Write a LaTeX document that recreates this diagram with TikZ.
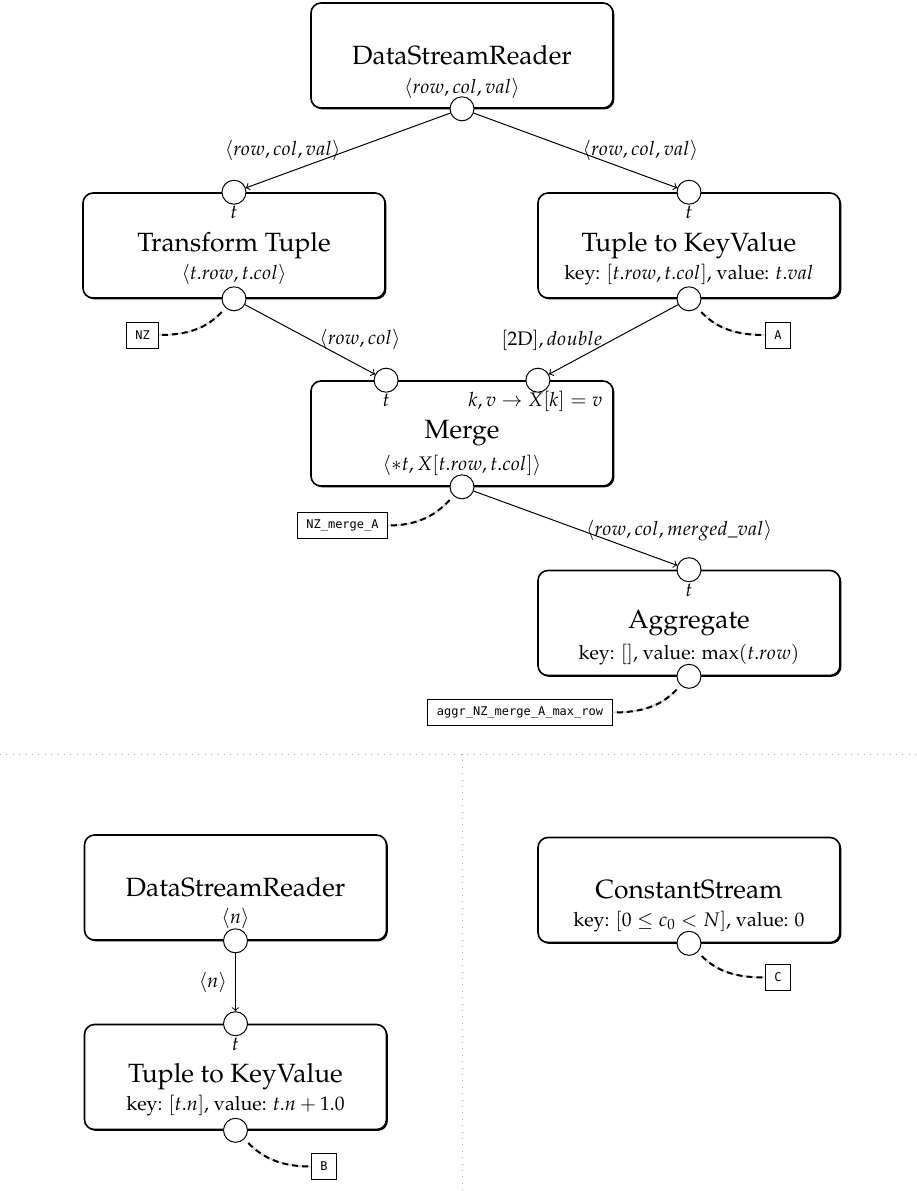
\documentclass[tikz,border=0pt]{standalone}
\usepackage[T1]{fontenc}
\usepackage{mathpazo}
\usepackage[no-math]{fontspec}
\newfontfamily\tagfont{DejaVu Sans Mono}
\newcommand\palfont{\fontencoding{T1}\fontfamily{ppl}\selectfont}
\usetikzlibrary{calc,shadows}
\tikzset{
  box/.style={draw, line width=0.8pt, rounded corners=5pt, minimum width=151pt, minimum height=52.5pt,
    fill=white, drop shadow={shadow xshift=0.7pt, shadow yshift=-0.7pt, opacity=1, fill=black},
    font=\palfont\fontsize{13.2}{16}\selectfont},
  port/.style={circle, draw, fill=white, line width=0.5pt, minimum size=12pt, inner sep=0pt},
  sub/.style={font=\palfont\fontsize{9.8}{12}\selectfont, inner sep=1pt},
  elabel/.style={font=\palfont\fontsize{9.8}{12}\selectfont, inner sep=1pt},
  tlabel/.style={label={[font=\palfont\fontsize{9.8}{12}\selectfont, inner sep=0pt, label distance=0.5pt]below:$t$}},
  tag/.style={draw, line width=0.5pt, fill=white, font=\tagfont\fontsize{6}{7}\selectfont,
    inner xsep=4.5pt, minimum height=13pt},
  flow/.style={->, line width=0.5pt},
  outflow/.style={line width=1pt, dash pattern=on 3pt off 2pt, shorten <=2.8pt,
    preaction={draw, black!15, solid, line width=1pt, shorten <=2.8pt}},
  divider/.style={gray!70, line width=0.5pt, dash pattern=on 0.5pt off 2.7pt}
}
\begin{document}
\begin{tikzpicture}[x=0.5pt, y=0.5pt]
\useasboundingbox (0,0) rectangle (917,-1191);

% dividers
\draw[divider] (0,-754) -- (917,-754);
\draw[divider] (462,-754) -- (462,-1191);

% boxes
\node[box] (dsr1) at (462,-55.5) {DataStreamReader};
\node[box] (tt) at (234,-245.5) {Transform Tuple};
\node[box] (tkv) at (689,-245.5) {Tuple to KeyValue};
\node[box] (merge) at (462,-433.5) {Merge};
\node[box] (agg) at (689,-623) {Aggregate};
\node[box] (dsr2) at (235.5,-887.5) {DataStreamReader};
\node[box] (tkv2) at (235.5,-1077) {Tuple to KeyValue};
\node[box] (cs) at (689,-890) {ConstantStream};

% subtitles
\node[sub] (dsr1s) at ($(dsr1.south)+(0,20)$) {$\langle row, col, val\rangle$};
\node[sub] (tts) at ($(tt.south)+(0,24)$) {$\langle t.row, t.col\rangle$};
\node[sub] (tkvs) at ($(tkv.south)+(0,24)$) {key: $[t.row, t.col]$, value: $t.val$};
\node[sub] (merges) at ($(merge.south)+(0,21)$) {$\langle {*}t, X[t.row, t.col]\rangle$};
\node[sub] (mergek) [anchor=east] at ($(merge.north east)+(-9,-21)$) {$k, v \rightarrow X[k] = v$};
\node[sub] (aggs) at ($(agg.south)+(0,22)$) {key: $[]$, value: $\max(t.row)$};
\node[sub] (dsr2s) at ($(dsr2.south)+(0,22)$) {$\langle n\rangle$};
\node[sub] (tkv2s) at ($(tkv2.south)+(0,25)$) {key: $[t.n]$, value: $t.n + 1.0$};
\node[sub] (css) at ($(cs.south)+(0,22)$) {key: $[0 \leq c_0 < N]$, value: $0$};

% ports
\node[port] (dsr1o) at (dsr1.south) {};
\node[port, tlabel] (tti) at (tt.north) {};
\node[port] (tto) at (tt.south) {};
\node[port, tlabel] (tkvi) at (tkv.north) {};
\node[port] (tkvo) at (tkv.south) {};
\node[port, tlabel] (mergei1) at ($(merge.north)!0.5!(merge.north west)$) {};
\node[port] (mergei2) at ($(merge.north)!0.5!(merge.north east)$) {};
\node[port] (mergeo) at (merge.south) {};
\node[port, tlabel] (aggi) at (agg.north) {};
\node[port] (aggo) at (agg.south) {};
\node[port] (dsr2o) at (dsr2.south) {};
\node[port, tlabel] (tkv2i) at (tkv2.north) {};
\node[port] (tkv2o) at (tkv2.south) {};
\node[port] (cso) at (cs.south) {};

% output tags
\node[tag] (nz) at (142.5,-335) {NZ};
\node[tag] (a) at (778,-335) {A};
\node[tag] (nzma) at (342.5,-525.5) {NZ\_merge\_A};
\node[tag] (aggr) at (520,-712.5) {aggr\_NZ\_merge\_A\_max\_row};
\node[tag] (b) at (324,-1166.5) {B};
\node[tag] (c) at (778,-977.5) {C};

% flows
\draw[flow] (dsr1o) -- node[elabel, pos=0.8, above=5pt, xshift=-2pt] (l1) {$\langle row, col, val\rangle$} (tti);
\draw[flow] (dsr1o) -- node[elabel, pos=0.8, above=5pt, xshift=2pt] (l2) {$\langle row, col, val\rangle$} (tkvi);
\draw[flow] (tto) -- node[elabel, pos=0.63, anchor=south west, xshift=-5pt, yshift=-1.5pt] (l3) {$\langle row, col\rangle$} (mergei1);
\draw[flow] (tkvo) -- node[elabel, pos=0.63, anchor=south east, xshift=4pt, yshift=-2.5pt] (l4) {$[\mathrm{2D}], double$} (mergei2);
\draw[flow] (mergeo) -- node[elabel, pos=0.54, anchor=west, yshift=0.25pt] (l5) {$\langle row, col, merged\_val\rangle$} (aggi);
\draw[flow] (dsr2o) -- node[elabel, left=3pt] (l6) {$\langle n\rangle$} (tkv2i);

% outputs
\draw[outflow] (tto.-133) to[out=-133, in=0] (nz.east);
\draw[outflow] (tkvo.-47) to[out=-47, in=180] (a.west);
\draw[outflow] (mergeo.-133) to[out=-133, in=0] (nzma.east);
\draw[outflow] (aggo.-133) to[out=-133, in=0] (aggr.east);
\draw[outflow] (tkv2o.-45) to[out=-45, in=180] (b.west);
\draw[outflow] (cso.-45) to[out=-45, in=180] (c.west);
\end{tikzpicture}
\end{document}
